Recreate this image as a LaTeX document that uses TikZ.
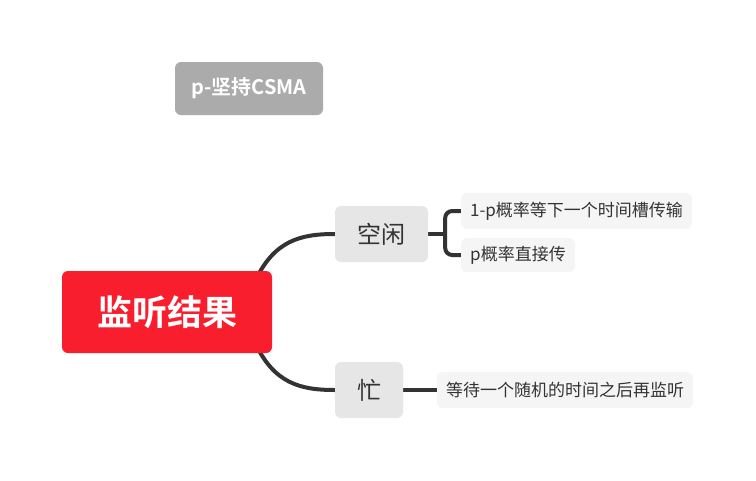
\documentclass[tikz,border=0pt]{standalone}
\usepackage{fontspec}
\usetikzlibrary{calc,backgrounds}
\newfontfamily\cjk{Noto Sans CJK SC}
\newfontfamily\cjkbold{Noto Sans CJK SC Bold}
\definecolor{rootred}{HTML}{F81E2E}
\definecolor{titlegray}{HTML}{ABABAB}
\definecolor{branchgray}{HTML}{E6E6E6}
\definecolor{leafgray}{HTML}{F5F5F5}
\definecolor{ink}{HTML}{333333}
\tikzset{
  box/.style={rounded corners=6pt, inner sep=0pt, align=center},
  rootbox/.style={box, fill=rootred, text=white, font=\cjkbold\fontsize{35}{35}\selectfont},
  titlebox/.style={box, fill=titlegray, text=white, font=\cjkbold\fontsize{20}{20}\selectfont},
  branchbox/.style={box, fill=branchgray, text=ink, font=\cjk\fontsize{24}{24}\selectfont},
  leafbox/.style={box, fill=leafgray, text=ink, font=\cjk\fontsize{17}{17}\selectfont},
  link/.style={draw=ink, line width=4pt},
}
\begin{document}
\begin{tikzpicture}[x=1pt,y=-1pt]
\useasboundingbox (0,0) rectangle (756,480);

\node[titlebox, minimum width=148pt, minimum height=53pt] (title) at (249,88.5) {p-坚持CSMA};

\node[rootbox, minimum width=210pt, minimum height=82pt] (root) at (167,312) {监听结果};

\node[branchbox, minimum width=93pt, minimum height=56pt] (idle) at (381.5,234) {空闲};
\node[branchbox, minimum width=68pt, minimum height=56pt] (busy) at (369,390) {忙};

\node[leafbox, minimum width=231pt, minimum height=36pt] (wait) at (576.5,211) {1-p概率等下一个时间槽传输};
\node[leafbox, minimum width=114pt, minimum height=34pt] (send) at (518,255) {p概率直接传};
\node[leafbox, minimum width=256pt, minimum height=36pt] (retry) at (565,390) {等待一个随机的时间之后再监听};

\coordinate (fork) at ($(idle.east)+(17,0)$);

\begin{pgfonlayer}{background}
  \draw[link] ($(root.north east)+(-17,10)$) .. controls ($(root.north east)+(2,-30)$) and (300,234) .. (idle.west);
  \draw[link] ($(root.south east)+(-17,-10)$) .. controls ($(root.south east)+(2,30)$) and (300,390) .. (busy.west);
  \draw[link] (idle.east) -- (fork);
  \draw[link, rounded corners=7pt] (wait.west) -| (fork) |- (send.west);
  \draw[link] (busy.east) -- (retry.west);
\end{pgfonlayer}
\end{tikzpicture}
\end{document}
